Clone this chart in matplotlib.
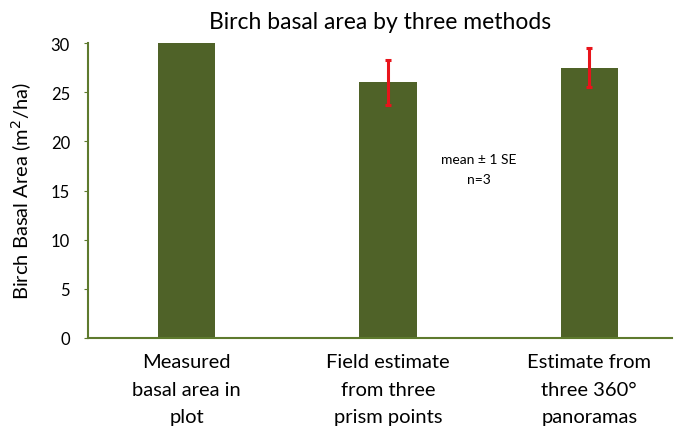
import matplotlib.pyplot as plt
import numpy as np

categories = ["Measured\nbasal area in\nplot",
              "Field estimate\nfrom three\nprism points",
              "Estimate from\nthree 360\u00b0\npanoramas"]
means = [30.0, 26.0, 27.5]
errors = [0.0, 2.3, 2.0]
has_err = [False, True, True]

plt.rcParams['font.family'] = ['Lato', 'DejaVu Sans']

bar_color = "#4F6228"
axis_color = "#5E7A2E"

fig = plt.figure(figsize=(6.74, 4.35), dpi=100)
ax = fig.add_axes([0.1306, 0.2207, 0.866, 0.678])

x = np.arange(len(categories))
ax.bar(x, means, width=0.285, color=bar_color, zorder=2)

xe = [xi for xi, h in zip(x, has_err) if h]
ye = [m for m, h in zip(means, has_err) if h]
ee = [e for e, h in zip(errors, has_err) if h]
ax.errorbar(xe, ye, yerr=ee, fmt='none', ecolor='#E8141B', elinewidth=2.2,
            capsize=2.5, capthick=2.2, zorder=3)

ax.set_xlim(-0.49, 2.41)
ax.set_ylim(0, 30)
ax.set_yticks([0, 5, 10, 15, 20, 25, 30])
ax.set_xticks(x)
ax.set_xticklabels(categories, fontsize=14.5, linespacing=1.75)
ax.tick_params(axis='x', length=0, pad=11)
ax.tick_params(axis='y', direction='out', length=3, color=axis_color,
               labelsize=12, pad=10)

for side in ['top', 'right']:
    ax.spines[side].set_visible(False)
for side in ['left', 'bottom']:
    ax.spines[side].set_color(axis_color)
    ax.spines[side].set_linewidth(1.5)

ax.set_ylabel("Birch Basal Area (m$^2$/ha)", fontsize=14.5, labelpad=12)
ax.set_title("Birch basal area by three methods", fontsize=16.5, pad=11)

ax.text(1.45, 17.2, "mean \u00b1 1 SE\nn=3", ha='center', va='center',
        fontsize=10, linespacing=1.8)

plt.savefig("out.png", dpi=100)
